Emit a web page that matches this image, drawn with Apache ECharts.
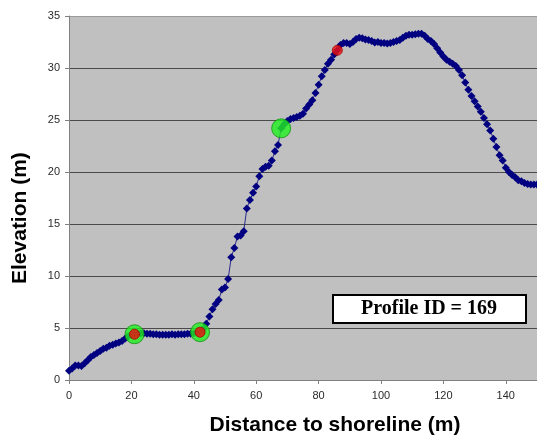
<!DOCTYPE html>
<html>
<head>
<meta charset="utf-8">
<script src="https://cdn.jsdelivr.net/npm/echarts@6/dist/echarts.min.js"></script>
<style>
  html, body { margin: 0; padding: 0; background: #ffffff; }
  #chart { width: 537px; height: 440px; }
</style>
</head>
<body>
<div id="chart"></div>
<script>
// Beach profile: distance to shoreline (m) vs elevation (m)
const distance = [
  0, 1, 2, 3, 4, 5, 6, 7, 8, 9, 10, 11, 12, 13, 14, 15, 16, 17, 18, 19, 20, 21,
  22, 23, 24, 25, 26, 27, 28, 29, 30, 31, 32, 33, 34, 35, 36, 37, 38, 39, 40, 41, 42,
  43, 44, 45, 46, 47, 48, 49, 50, 51, 52, 53, 54, 55, 56, 57, 58, 59, 60,
  61, 62, 63, 64, 65, 66, 67, 68, 69, 70, 71, 72, 73, 74, 75, 76, 77, 78, 79, 80,
  81, 82, 83, 84, 85, 86, 87, 88, 89, 90, 91, 92, 93, 94, 95, 96, 97, 98, 99, 100,
  101, 102, 103, 104, 105, 106, 107, 108, 109, 110, 111, 112, 113, 114, 115, 116, 117, 118, 119, 120,
  121, 122, 123, 124, 125, 126, 127, 128, 129, 130, 131, 132, 133, 134, 135, 136, 137, 138, 139, 140,
  141, 142, 143, 144, 145, 146, 147, 148, 149, 150
];
const elevation = [
  0.9, 1.1, 1.4, 1.4, 1.35, 1.6, 1.9, 2.2, 2.4, 2.6, 2.8, 3.0, 3.1, 3.3, 3.4, 3.5, 3.6, 3.75, 4.0, 4.2, 4.35, 4.4,
  4.5, 4.5, 4.5, 4.45, 4.45, 4.4, 4.4, 4.35, 4.35, 4.35, 4.35, 4.4, 4.35, 4.4, 4.4, 4.4, 4.45, 4.45, 4.5, 4.55, 4.6,
  4.9, 5.4, 6.1, 6.8, 7.3, 7.7, 8.7, 8.9, 9.7, 11.8, 12.7, 13.8, 13.9, 14.3, 16.5, 17.3, 18.0, 18.6,
  19.6, 20.3, 20.5, 20.6, 21.1, 22.0, 22.6, 24.2, 24.6, 24.9, 25.1, 25.2, 25.3, 25.4, 25.6, 26.1, 26.5, 26.9, 27.6, 28.4,
  29.2, 29.8, 30.4, 30.8, 31.3, 31.7, 32.2, 32.4, 32.4, 32.3, 32.5, 32.8, 32.9, 32.85, 32.75, 32.7, 32.6, 32.45, 32.5, 32.4,
  32.4, 32.35, 32.4, 32.5, 32.6, 32.7, 32.9, 33.1, 33.2, 33.2, 33.25, 33.3, 33.3, 33.1, 32.8, 32.6, 32.3, 31.9, 31.5, 31.1,
  30.8, 30.6, 30.4, 30.2, 29.8, 29.3, 28.6, 27.9, 27.3, 26.8, 26.3, 25.8, 25.2, 24.6, 24.0, 23.2, 22.4, 21.6, 21.1, 20.4,
  20.0, 19.7, 19.5, 19.2, 19.1, 18.95, 18.85, 18.8, 18.8, 18.8
];

// Highlighted profile points
const greenDist = [21, 42, 68];
const greenElev = [4.4, 4.6, 24.2];
const redDist = [21, 42, 86];
const redElev = [4.4, 4.6, 31.7];

const xTicks = [0, 20, 40, 60, 80, 100, 120, 140];
const yTicks = [0, 5, 10, 15, 20, 25, 30, 35];
const profileLabel = 'Profile ID = 169';

const pairs = (xs, ys) => xs.map((x, i) => [x, ys[i]]);

const chart = echarts.init(document.getElementById('chart'), null, { renderer: 'canvas' });

chart.setOption({
  animation: false,
  backgroundColor: '#ffffff',
  grid: {
    left: 69, top: 16, right: 0, bottom: 60,
    show: true, backgroundColor: '#c0c0c0', borderWidth: 0
  },
  xAxis: {
    type: 'value',
    min: 0, max: 150, interval: 20,
    axisLine: { show: true, onZero: false, lineStyle: { color: '#808080', width: 1 } },
    axisTick: { show: true, length: 4, lineStyle: { color: '#808080' } },
    axisLabel: {
      margin: 10, color: '#2a2a2a', fontSize: 11, fontFamily: 'Liberation Sans, Arial, sans-serif',
      showMaxLabel: false,
      formatter: v => (xTicks.indexOf(v) >= 0 ? String(v) : '')
    },
    splitLine: { show: false }
  },
  yAxis: {
    type: 'value',
    min: 0, max: 35, interval: 5,
    axisLine: { show: true, lineStyle: { color: '#808080', width: 1 } },
    axisTick: { show: true, length: 4, lineStyle: { color: '#808080' } },
    axisLabel: {
      margin: 9, color: '#2a2a2a', fontSize: 11, fontFamily: 'Liberation Sans, Arial, sans-serif',
      formatter: v => (yTicks.indexOf(v) >= 0 ? String(v) : '')
    },
    splitLine: {
      show: true,
      lineStyle: {
        color: ['#808080', '#4a4a4a', '#4a4a4a', '#4a4a4a', '#4a4a4a', '#4a4a4a', '#4a4a4a', '#9a9a9a'],
        width: 1
      }
    }
  },
  graphic: [
    {
      type: 'text', rotation: Math.PI / 2,
      position: [10, 284],
      style: {
        text: 'Elevation (m)', fill: '#000000',
        font: 'bold 21px "Liberation Sans", Arial, sans-serif'
      }
    },
    {
      type: 'text',
      style: {
        text: 'Distance to shoreline (m)', fill: '#000000',
        font: 'bold 21px "Liberation Sans", Arial, sans-serif',
        x: 335, y: 425, textAlign: 'center', textVerticalAlign: 'middle'
      }
    },
    {
      type: 'rect', z: 100,
      shape: { x: 333, y: 295, width: 193, height: 28 },
      style: { fill: '#ffffff', stroke: '#000000', lineWidth: 2 }
    },
    {
      type: 'text', z: 101,
      style: {
        text: profileLabel, fill: '#000000',
        font: 'bold 20px "Liberation Serif", "Times New Roman", serif',
        x: 429, y: 309, textAlign: 'center', textVerticalAlign: 'middle'
      }
    }
  ],
  series: [
    {
      name: 'profile', type: 'line', z: 2,
      data: pairs(distance, elevation),
      symbol: 'diamond', symbolSize: 8, showAllSymbol: true,
      itemStyle: { color: '#000080' },
      lineStyle: { color: '#2a2a8a', width: 1 }
    },
    {
      name: 'green', type: 'scatter', z: 3,
      data: pairs(greenDist, greenElev),
      symbol: 'circle', symbolSize: 19,
      itemStyle: { color: '#1ef01e', borderColor: '#129012', borderWidth: 1 }
    },
    {
      name: 'red', type: 'scatter', z: 4,
      data: pairs(redDist, redElev),
      symbol: 'circle', symbolSize: 10,
      itemStyle: { color: '#f01010', borderColor: '#a00000', borderWidth: 1 }
    }
  ]
});
</script>
</body>
</html>
